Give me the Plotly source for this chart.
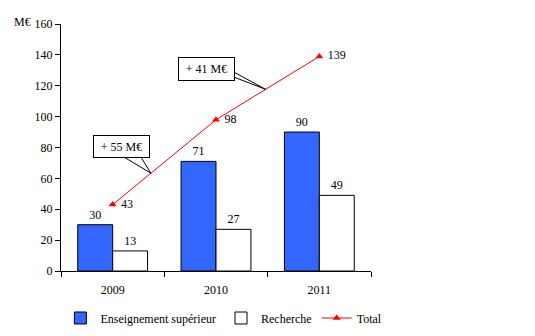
import plotly.graph_objects as go

years = ["2009", "2010", "2011"]
enseignement = [30, 71, 90]
recherche = [13, 27, 49]
total = [43, 98, 139]
y_ticks = [0, 20, 40, 60, 80, 100, 120, 140, 160]

W, H = 535, 336
L, R, T, B = 61, 163.5, 24, 65
pw, ph = W - L - R, H - T - B
YMAX = 160
FONT = "Liberation Serif, Times New Roman, serif"

def px_to_paper(px, py):
    return ((px - L) / pw, (H - B - py) / ph)

def data_to_px(xi, yv):
    return (L + (xi + 0.5) / 3 * pw, H - B - yv / YMAX * ph)

def interp_total(xi):
    i = int(xi)
    f = xi - i
    return total[i] + f * (total[i + 1] - total[i])

fig = go.Figure()
fig.add_trace(go.Bar(
    x=years, y=enseignement, name="Enseignement supérieur",
    marker=dict(color="#3366FF", line=dict(color="black", width=1)),
    text=enseignement, textposition="outside",
    textfont=dict(family=FONT, size=12, color="black"), cliponaxis=False))
fig.add_trace(go.Bar(
    x=years, y=recherche, name="Recherche",
    marker=dict(color="white", line=dict(color="black", width=1)),
    text=recherche, textposition="outside",
    textfont=dict(family=FONT, size=12, color="black"), cliponaxis=False))
fig.add_trace(go.Scatter(
    x=years, y=total, name="Total", mode="lines+markers+text",
    line=dict(color="red", width=1),
    marker=dict(symbol="triangle-up", size=7, color="red"),
    text=[" " + str(v) for v in total], textposition="middle right",
    textfont=dict(family=FONT, size=12, color="black"), cliponaxis=False))

shapes = []
annotations = []
# callouts: (label, box centre px, box size, wedge base points px, tip position along line)
callouts = [
    ("+ 55 M€", (121.5, 146.5), (55, 21), [(124, 157), (141, 157)], 0.37),
    ("+ 41 M€", (206.5, 69), (55, 22), [(234, 72), (234, 77)], 1.48),
]
for label, (cx, cy), (bw, bh), base, tip_x in callouts:
    tx, ty = data_to_px(tip_x, interp_total(tip_x))
    p1 = px_to_paper(*base[0])
    p2 = px_to_paper(*base[1])
    pt = px_to_paper(tx, ty)
    shapes.append(dict(type="path", xref="paper", yref="paper",
                       path=f"M {p1[0]} {p1[1]} L {pt[0]} {pt[1]} L {p2[0]} {p2[1]}",
                       line=dict(color="black", width=1)))
    bx, by = px_to_paper(cx, cy)
    annotations.append(dict(xref="paper", yref="paper", x=bx, y=by, text=label,
                            showarrow=False, bordercolor="black", borderwidth=1,
                            bgcolor="white", width=bw - 2, height=bh - 2,
                            font=dict(family=FONT, size=12, color="black"),
                            xanchor="center", yanchor="middle"))
mx, my = px_to_paper(22, 22)
annotations.append(dict(xref="paper", yref="paper", x=mx, y=my, text="M€",
                        showarrow=False, xanchor="center", yanchor="middle",
                        font=dict(family=FONT, size=12, color="black")))

fig.update_layout(
    width=W, height=H,
    margin=dict(l=L, r=R, t=T, b=B, pad=0, autoexpand=False),
    paper_bgcolor="white", plot_bgcolor="white",
    font=dict(family=FONT, size=12, color="black"),
    barmode="group", bargap=0.324, bargroupgap=0,
    showlegend=True,
    legend=dict(orientation="h", xref="paper", yref="paper",
                x=-0.002, xanchor="left", y=-(318 - (H - B)) / ph, yanchor="middle",
                font=dict(family=FONT, size=12, color="black"),
                itemwidth=30, tracegroupgap=0, bgcolor="rgba(0,0,0,0)"),
    xaxis=dict(type="category", range=[-0.5, 2.5], showline=True, linecolor="black",
               linewidth=1, ticks="outside", tickson="boundaries", ticklen=5,
               tickcolor="black", showgrid=False, zeroline=False,
               tickfont=dict(family=FONT, size=12, color="black"), ticklabelstandoff=8),
    yaxis=dict(range=[0, YMAX], tickvals=y_ticks, showline=True, linecolor="black",
               linewidth=1, ticks="outside", ticklen=5, tickcolor="black",
               showgrid=False, zeroline=False,
               tickfont=dict(family=FONT, size=12, color="black")),
    shapes=shapes, annotations=annotations,
)
fig.write_html("out.html")
